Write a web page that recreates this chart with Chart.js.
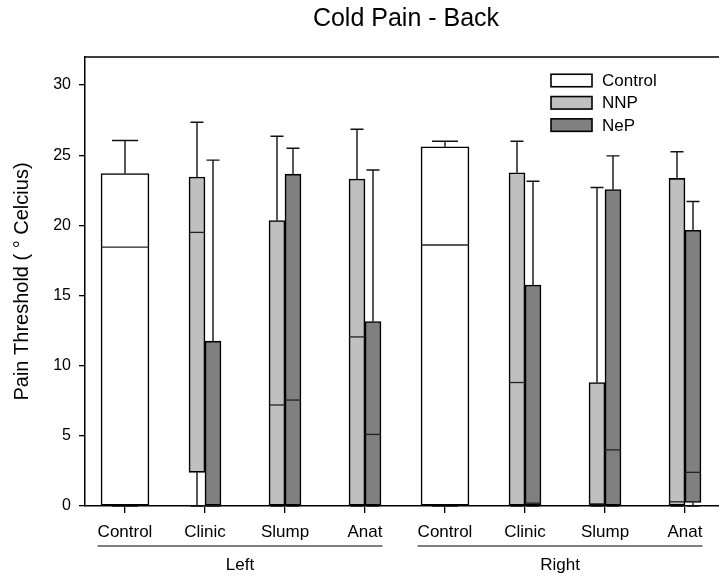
<!DOCTYPE html>
<html>
<head>
<meta charset="utf-8">
<script src="https://cdn.jsdelivr.net/npm/chart.js@4.4.0/dist/chart.umd.min.js"></script>
<style>
html,body{margin:0;padding:0;background:#fff;overflow:hidden;}
#wrap{width:726px;height:577px;position:relative;}
</style>
</head>
<body>
<div id="wrap"><canvas id="c" width="726" height="577"></canvas></div>
<script>
// ---- data ----
const chartTitle = 'Cold Pain - Back';
const categories = ['Control','Clinic','Slump','Anat','Control','Clinic','Slump','Anat'];
const groupOf    = ['Left','Left','Left','Left','Right','Right','Right','Right'];
const yTickValues = [0,5,10,15,20,25,30];

const controlMin    = [0,    null, null, null, 0,     null, null, null];
const controlQ1     = [0,    null, null, null, 0,     null, null, null];
const controlMedian = [18.45,null, null, null, 18.6,  null, null, null];
const controlQ3     = [23.7, null, null, null, 25.6,  null, null, null];
const controlMax    = [26.05,null, null, null, 26.0,  null, null, null];

const nnpMin    = [null, 0,     0,     0,     null, 0,     0,    0];
const nnpQ1     = [null, 2.4,   0,     0,     null, 0,     0,    0];
const nnpMedian = [null, 19.5,  7.2,   12.05, null, 8.8,   0.15, 0.3];
const nnpQ3     = [null, 23.45, 20.35, 23.3,  null, 23.75, 8.8,  23.35];
const nnpMax    = [null, 27.35, 26.35, 26.85, null, 26.0,  22.7, 25.25];

const nepMin    = [null, 0,     0,     0,     null, 0,     0,     0];
const nepQ1     = [null, 0,     0,     0,     null, 0,     0,     0.25];
const nepMedian = [null, 0,     7.55,  5.1,   null, 0.2,   4.0,   2.4];
const nepQ3     = [null, 11.75, 23.65, 13.15, null, 15.75, 22.55, 19.65];
const nepMax    = [null, 24.65, 25.5,  23.95, null, 23.15, 24.95, 21.7];

const FONT = "'Liberation Sans', Arial, sans-serif";

function floating(q1, q3){ return q1.map((v,i)=> v==null ? null : [v, q3[i]]); }

const datasets = [
  {label:'Control', data: floating(controlQ1, controlQ3), backgroundColor:'#ffffff', barThickness:48, capWidth:26,
   stats:{min:controlMin, q1:controlQ1, median:controlMedian, q3:controlQ3, max:controlMax}},
  {label:'NNP', data: floating(nnpQ1, nnpQ3), backgroundColor:'#c0c0c0', barThickness:16, capWidth:13,
   stats:{min:nnpMin, q1:nnpQ1, median:nnpMedian, q3:nnpQ3, max:nnpMax}},
  {label:'NeP', data: floating(nepQ1, nepQ3), backgroundColor:'#808080', barThickness:16, capWidth:13,
   stats:{min:nepMin, q1:nepQ1, median:nepMedian, q3:nepQ3, max:nepMax}}
].map(d => Object.assign(d, {borderColor:'#000', borderWidth:1.6, borderSkipped:false, skipNull:true}));

const boxExtras = {
  id:'boxExtras',
  beforeDatasetsDraw(chart){
    const ctx = chart.ctx, y = chart.scales.y;
    chart.data.datasets.forEach((ds, di) => {
      const meta = chart.getDatasetMeta(di);
      meta.data.forEach((bar, i) => {
        const st = ds.stats;
        if (st.q3[i] == null) return;
        const x = bar.x;
        const cap = ds.capWidth/2;
        ctx.save();
        ctx.strokeStyle = '#111'; ctx.lineWidth = 1.4;
        const yq3 = y.getPixelForValue(st.q3[i]), ymax = y.getPixelForValue(st.max[i]);
        ctx.beginPath(); ctx.moveTo(x, yq3); ctx.lineTo(x, ymax);
        ctx.moveTo(x-cap, ymax); ctx.lineTo(x+cap, ymax); ctx.stroke();
        const yq1 = y.getPixelForValue(st.q1[i]), ymin = y.getPixelForValue(st.min[i]);
        ctx.beginPath(); ctx.moveTo(x, yq1); ctx.lineTo(x, ymin);
        ctx.moveTo(x-cap, ymin); ctx.lineTo(x+cap, ymin); ctx.stroke();
        ctx.restore();
      });
    });
  },
  afterDatasetsDraw(chart){
    const ctx = chart.ctx, y = chart.scales.y;
    chart.data.datasets.forEach((ds, di) => {
      const meta = chart.getDatasetMeta(di);
      meta.data.forEach((bar, i) => {
        const st = ds.stats;
        if (st.q3[i] == null) return;
        const x = bar.x, half = bar.width/2;
        const ym = y.getPixelForValue(st.median[i]);
        ctx.save();
        ctx.strokeStyle = '#222'; ctx.lineWidth = 1.3;
        ctx.beginPath(); ctx.moveTo(x-half, ym); ctx.lineTo(x+half, ym); ctx.stroke();
        ctx.restore();
      });
    });
  },
  afterDraw(chart){
    const ctx = chart.ctx, a = chart.chartArea, xs = chart.scales.x;
    ctx.save();
    ctx.font = '25px ' + FONT; ctx.fillStyle = '#000'; ctx.textAlign = 'center'; ctx.textBaseline = 'alphabetic';
    ctx.fillText(chartTitle, (a.left + a.right)/2 + 1, 26);
    ctx.strokeStyle = '#000'; ctx.lineWidth = 1.5;
    ctx.beginPath(); ctx.moveTo(a.left, a.top); ctx.lineTo(a.right, a.top); ctx.lineTo(a.right, a.bottom); ctx.stroke();
    ctx.font = '17px ' + FONT; ctx.textBaseline = 'middle'; ctx.textAlign = 'left';
    const lx = 551, ly = 80.5, step = 22.3, bw = 41, bh = 12.5;
    chart.data.datasets.forEach((ds, i) => {
      const cy = ly + i*step;
      ctx.fillStyle = ds.backgroundColor; ctx.fillRect(lx, cy-bh/2, bw, bh);
      ctx.strokeStyle = '#000'; ctx.lineWidth = 1.6; ctx.strokeRect(lx, cy-bh/2, bw, bh);
      ctx.fillStyle = '#000'; ctx.fillText(ds.label, lx + bw + 10, cy + 1);
    });
    const names = [...new Set(groupOf)];
    ctx.font = '17px ' + FONT;
    names.forEach(name => {
      const idx = groupOf.map((g,i)=> g===name ? i : -1).filter(i=>i>=0);
      const first = idx[0], last = idx[idx.length-1];
      const x1 = xs.getPixelForTick(first) - ctx.measureText(categories[first]).width/2;
      const x2 = xs.getPixelForTick(last) + ctx.measureText(categories[last]).width/2;
      ctx.strokeStyle = '#000'; ctx.lineWidth = 1.2;
      ctx.beginPath(); ctx.moveTo(x1, 546); ctx.lineTo(x2, 546); ctx.stroke();
      ctx.fillStyle = '#000'; ctx.textAlign = 'center'; ctx.textBaseline = 'middle';
      ctx.fillText(name, (x1+x2)/2, 565);
    });
    ctx.restore();
  }
};

new Chart(document.getElementById('c'), {
  type:'bar',
  data:{labels:categories, datasets},
  options:{
    responsive:false,
    animation:false,
    devicePixelRatio:1,
    layout:{padding:{left:0,right:1,top:57,bottom:0}},
    plugins:{
      legend:{display:false},
      tooltip:{enabled:false},
      title:{display:false}
    },
    scales:{
      x:{
        type:'category', offset:true,
        grid:{display:true, drawOnChartArea:false, drawTicks:true, tickLength:7, offset:false, color:'#000', lineWidth:1.3},
        border:{display:true, color:'#000', width:1.5},
        ticks:{color:'#000', font:{family:FONT, size:17}, padding:9, maxRotation:0, autoSkip:false},
        afterFit(s){ s.height = 71; }
      },
      y:{
        min:0, max:32,
        afterBuildTicks(s){ s.ticks = yTickValues.map(v => ({value:v})); },
        ticks:{color:'#000', font:{family:FONT, size:16}, padding:8},
        grid:{display:true, drawOnChartArea:false, drawTicks:true, tickLength:6, color:'#000', lineWidth:1.3},
        border:{display:true, color:'#000', width:1.5},
        title:{display:true, text:'Pain Threshold ( \u00B0 Celcius)', color:'#000',
               font:{family:FONT, size:20}, padding:{top:10, bottom:0}},
        afterFit(s){ s.width = 85; }
      }
    }
  },
  plugins:[boxExtras]
});
</script>
</body>
</html>
